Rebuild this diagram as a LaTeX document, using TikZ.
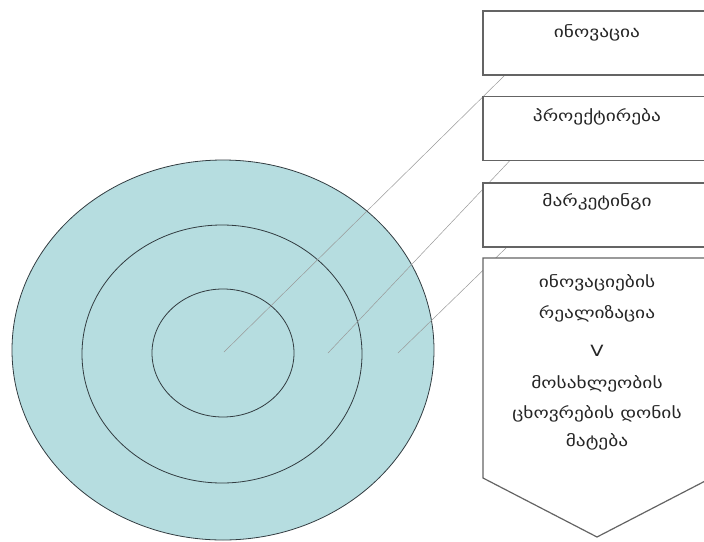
\documentclass[tikz,border=0pt]{standalone}
\usepackage{fontspec}
\newfontfamily\geo[FakeStretch=1.25]{DejaVu Sans}
\usetikzlibrary{calc}
\definecolor{discfill}{RGB}{182,221,224}
\definecolor{ringline}{RGB}{50,60,65}
\definecolor{boxline}{RGB}{100,100,100}
\tikzset{
  ring/.style={draw=ringline,line width=0.8pt},
  leader/.style={draw=gray!80,line width=0.5pt},
  labelbox/.style={draw=boxline,line width=1.2pt,fill=white,minimum width=228pt,minimum height=64pt,inner sep=0pt},
  lbl/.style={font=\geo\fontsize{15.5}{18}\selectfont,text=black!85}
}
\begin{document}
\begin{tikzpicture}[x=1pt,y=-1pt]
\useasboundingbox (0,0) rectangle (704,541);
% discs
\fill[discfill] (223,350) ellipse [x radius=211,y radius=190];
\draw[ring] (223,350) ellipse [x radius=211,y radius=190];
\draw[ring] (222,354) ellipse [x radius=140,y radius=129];
\draw[ring] (223,353) ellipse [x radius=71,y radius=64];
% anchor points inside the rings
\coordinate (p1) at (224,352);
\coordinate (p2) at (328,353);
\coordinate (p3) at (398,353);
% boxes
\node[labelbox] (b1) at (597,43) {};
\node[labelbox] (b2) at (597,128.5) {};
\node[labelbox] (b3) at (597,215) {};
\coordinate (q1) at ($(b1.south west)+(22,0)$);
\coordinate (q2) at ($(b2.south west)+(27,0)$);
\coordinate (q3) at ($(b3.south west)+(24,0)$);
\draw[leader] (p1) -- (q1);
\draw[leader] (p2) -- (q2);
\draw[leader] (p3) -- (q3);
\node[labelbox] at (b1) {};
\node[labelbox] at (b2) {};
\node[labelbox] at (b3) {};
\node[lbl] at ($(b1.north)+(0,22)$) {ინოვაცია};
\node[lbl] at ($(b2.north)+(0,21)$) {პროექტირება};
\node[lbl] at ($(b3.north)+(0,19)$) {მარკეტინგი};
% arrow-shaped box
\coordinate (t1) at (483,258);
\coordinate (t2) at (711,258);
\coordinate (t3) at (711,478);
\coordinate (t4) at (597,537);
\coordinate (t5) at (483,478);
\draw[draw=boxline,line width=1.2pt,fill=white] (t1) -- (t2) -- (t3) -- (t4) -- (t5) -- cycle;
\node[lbl] at (597,283) {ინოვაციების};
\node[lbl] at (597,314) {რეალიზაცია};
\node[lbl] at (597,351) {V};
\node[lbl] at (597,384) {მოსახლეობის};
\node[lbl] at (597,414) {ცხოვრების დონის};
\node[lbl] at (597,442) {მატება};
\end{tikzpicture}
\end{document}
